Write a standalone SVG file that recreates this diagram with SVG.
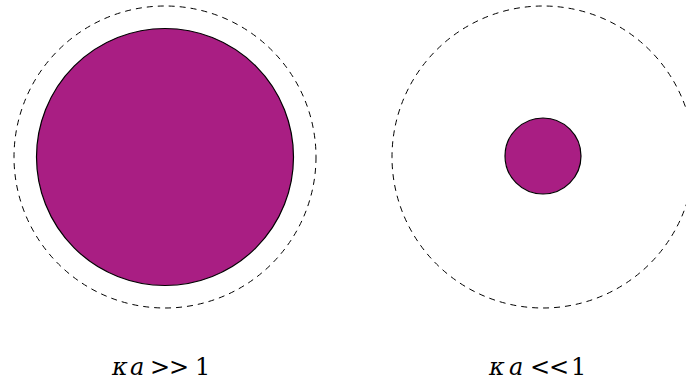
<svg xmlns="http://www.w3.org/2000/svg" width="686" height="383" viewBox="0 0 686 383">
<style>
.halo{fill:none;stroke:#000;stroke-width:1;stroke-dasharray:6,5}
.core{fill:#a91e83;stroke:#000;stroke-width:1.2}
.lbl{font-family:"DejaVu Serif",serif;font-size:24px;fill:#000}
.it{font-style:italic}
</style>
<rect width="686" height="383" fill="#fff"/>
<g id="large-particle">
<circle class="halo" cx="165" cy="157" r="151"/>
<circle class="core" cx="165" cy="157" r="128.5"/>
<text class="lbl" y="375"><tspan class="it" x="112">κ</tspan><tspan class="it" x="130">a</tspan><tspan x="150">&gt;</tspan><tspan x="169">&gt;</tspan><tspan x="195">1</tspan></text>
</g>
<g id="small-particle">
<circle class="halo" cx="543" cy="157" r="151"/>
<circle class="core" cx="543" cy="156" r="38"/>
<text class="lbl" y="375"><tspan class="it" x="489">κ</tspan><tspan class="it" x="509">a</tspan><tspan x="530">&lt;</tspan><tspan x="549">&lt;</tspan><tspan x="571">1</tspan></text>
</g>
<g id="connectors"/>
</svg>
